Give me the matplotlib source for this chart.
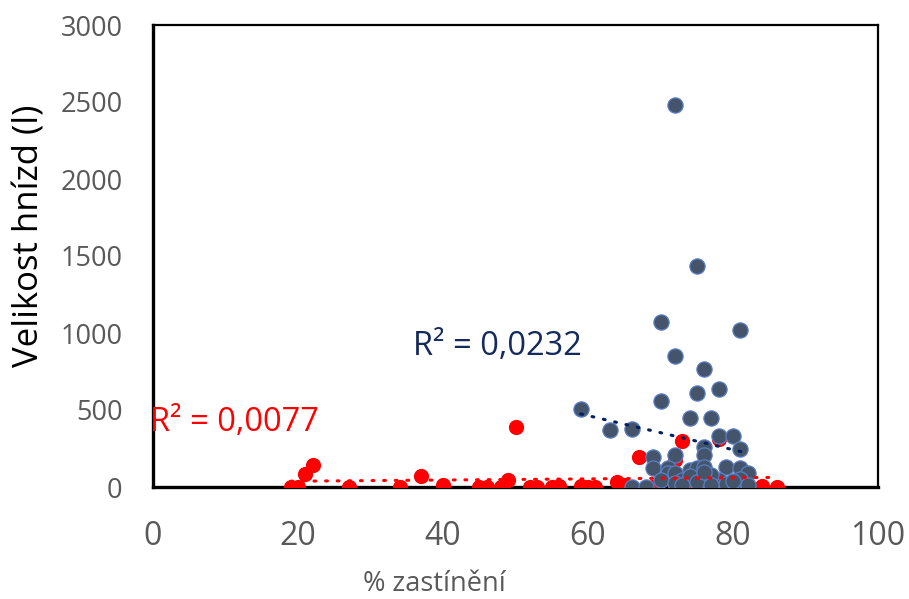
import numpy as np
import matplotlib
matplotlib.use('Agg')
from matplotlib import pyplot as plt

plt.rcParams['font.family'] = ['Open Sans', 'DejaVu Sans']

# red series (% shade, nest size)
red_x = [19, 20, 21, 22, 27, 34, 37, 40, 45, 46, 48, 49, 50, 52, 53, 55, 56, 59,
         60, 61, 64, 65, 67, 72, 73, 78, 69, 72, 75, 78, 84, 86, 71, 74, 77, 80, 82, 76]
red_y = [0, 0, 84, 143, 0, 0, 71, 13, 0, 0, 0, 45, 390, 0, 0, 0, 6, 6,
         0, 0, 32, 13, 195, 175, 300, 310, 0, 0, 26, 0, 6, 0, 60, 40, 20, 30, 0, 10]

# blue series
blue_x = [72, 75, 70, 81, 72, 76, 78, 75, 70, 59, 74, 77, 63, 66, 78, 80, 76, 81,
          76, 72, 69, 69, 71, 71, 72, 74, 75, 76, 79, 81, 82, 70, 73, 76, 78, 81,
          66, 68, 72, 78, 80, 82, 74, 77, 79, 75, 73, 77, 80, 76]
blue_y = [2480, 1435, 1071, 1019, 851, 766, 636, 610, 558, 506, 448, 448, 370, 377,
          331, 331, 260, 247, 210, 208, 195, 123, 123, 90, 90, 110, 123, 130, 130,
          123, 90, 45, 45, 58, 45, 52, 0, 0, 26, 6, 6, 13, 70, 80, 20, 30, 15, 10, 40, 100]

r2_red = 'R² = 0,0077'
r2_blue = 'R² = 0,0232'

fig = plt.figure(figsize=(9.09, 5.99), dpi=100)
ax = fig.add_axes([153/909, 1 - 487/599, 725/909, 462/599])

ax.scatter(red_x, red_y, s=120, color='#FF0000', zorder=3, linewidths=0)
ax.scatter(blue_x, blue_y, s=120, color='#44546A', edgecolors='#5B7FC4',
           linewidths=0.9, zorder=4)

# linear trendlines
for xs, ys, c in [(red_x, red_y, '#FF0000'), (blue_x, blue_y, '#002060')]:
    k, q = np.polyfit(xs, ys, 1)
    xx = np.array([min(xs), max(xs)])
    ax.plot(xx, k*xx + q, color=c, lw=2.2, linestyle=(0, (0.6, 3.2)),
            dash_capstyle='round', zorder=5)

ax.text(-0.4, 418, r2_red, color='#FF0000', fontsize=23.5, va='center', ha='left')
ax.text(35.8, 912, r2_blue, color='#142A5C', fontsize=23.5, va='center', ha='left')

ax.set_xlim(0, 100)
ax.set_ylim(0, 3000)
ax.set_xticks(range(0, 101, 20))
ax.set_yticks(range(0, 3001, 500))
ax.tick_params(length=0, labelcolor='#595959')
ax.tick_params(axis='x', labelsize=23, pad=24)
ax.tick_params(axis='y', labelsize=19.5, pad=22)

for s in ['top', 'right']:
    ax.spines[s].set_linewidth(1.6)
for s in ['left', 'bottom']:
    ax.spines[s].set_linewidth(2.4)
ax.spines['bottom'].set_zorder(2)

fig.text(434/909, 1 - 584/599, '% zastínění', fontsize=19.5, color='#595959',
         ha='center', va='center')
fig.text(30/909, 1 - 236/599, 'Velikost hnízd (l)', fontsize=25, color='black',
         rotation=90, ha='center', va='center')

fig.savefig('out.png', dpi=100)
